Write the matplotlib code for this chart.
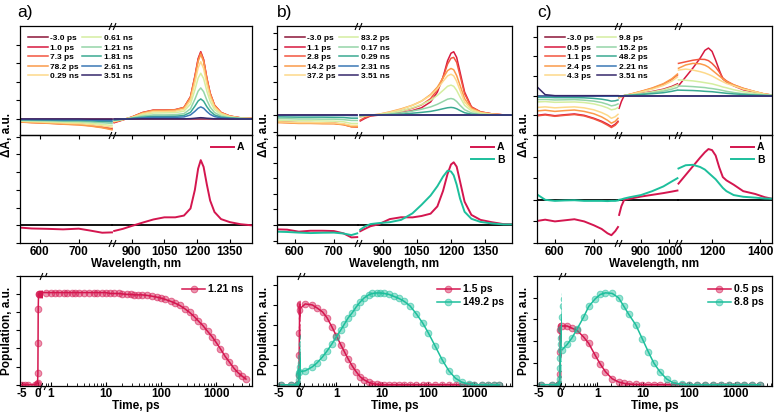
import numpy as np
import matplotlib
matplotlib.use('Agg')
import matplotlib.pyplot as plt
from matplotlib.colors import to_rgba
from matplotlib.path import Path
from matplotlib.ticker import LogLocator, NullFormatter

plt.rcParams['font.family'] = ['Liberation Sans', 'DejaVu Sans']
plt.rcParams['font.weight'] = 'bold'
plt.rcParams['axes.labelweight'] = 'bold'

# ---------------- data ----------------
delay_colors = ['#8b1538', '#d7193f', '#f2553f', '#fb9a4a', '#fdd98a',
                '#d5eea0', '#95d5a8', '#3aa992', '#3a78b5', '#35286b']
col_A = '#d4164f'
col_B = '#1dbf9c'

# panel a
delays_a = ['-3.0 ps', '1.0 ps', '7.3 ps', '78.2 ps', '0.29 ns',
            '0.61 ns', '1.21 ns', '1.81 ns', '2.61 ns', '3.51 ns']
wl_a_L = [550, 580, 620, 660, 700, 730, 760, 785]
wl_a_R = [820, 860, 900, 950, 1000, 1050, 1100, 1140, 1170, 1190,
          1205, 1217, 1230, 1245, 1260, 1280, 1310, 1350, 1400, 1450]
dA_a_L = [
    [0, 0, 0, 0, 0, 0, 0, 0],
    [-0.14, -0.17, -0.2, -0.25, -0.27, -0.33, -0.42, -0.5],
    [-0.15, -0.19, -0.22, -0.27, -0.3, -0.36, -0.45, -0.55],
    [-0.16, -0.2, -0.23, -0.28, -0.32, -0.38, -0.47, -0.58],
    [-0.12, -0.15, -0.18, -0.22, -0.25, -0.3, -0.37, -0.45],
    [-0.1, -0.12, -0.14, -0.17, -0.19, -0.23, -0.29, -0.35],
    [-0.07, -0.08, -0.1, -0.12, -0.13, -0.16, -0.2, -0.24],
    [-0.04, -0.05, -0.06, -0.08, -0.08, -0.1, -0.13, -0.15],
    [-0.03, -0.03, -0.04, -0.05, -0.05, -0.06, -0.08, -0.09],
    [0, 0, 0, 0, 0, -0.01, -0.01, -0.01],
]
dA_a_R = [
    [0, 0, 0, 0, 0, 0, 0, 0, 0, 0, 0, 0, 0, 0, 0, 0, 0, 0, 0, 0],
    [-0.2, -0.05, 0.1, 0.35, 0.48, 0.48, 0.5, 0.62, 1.2, 2.3, 3.25, 3.62, 3.2, 2.2, 1.4, 0.75, 0.35, 0.16, 0.06, 0.03],
    [-0.18, -0.04, 0.1, 0.34, 0.47, 0.47, 0.5, 0.62, 1.18, 2.25, 3.2, 3.58, 3.18, 2.18, 1.38, 0.74, 0.35, 0.16, 0.06, 0.03],
    [-0.15, -0.03, 0.1, 0.33, 0.46, 0.46, 0.48, 0.6, 1.15, 2.2, 3.1, 3.48, 3.08, 2.12, 1.35, 0.72, 0.34, 0.15, 0.06, 0.03],
    [-0.13, -0.03, 0.08, 0.28, 0.4, 0.4, 0.42, 0.52, 1.0, 1.95, 2.75, 3.08, 2.72, 1.87, 1.19, 0.64, 0.3, 0.14, 0.05, 0.02],
    [-0.1, -0.02, 0.07, 0.23, 0.32, 0.33, 0.34, 0.42, 0.8, 1.56, 2.2, 2.46, 2.18, 1.5, 0.95, 0.51, 0.24, 0.11, 0.04, 0.02],
    [-0.07, -0.02, 0.05, 0.16, 0.22, 0.22, 0.23, 0.29, 0.55, 1.06, 1.5, 1.67, 1.47, 1.01, 0.64, 0.35, 0.16, 0.07, 0.03, 0.01],
    [-0.05, -0.01, 0.03, 0.1, 0.14, 0.14, 0.15, 0.19, 0.36, 0.69, 0.97, 1.08, 0.96, 0.66, 0.42, 0.22, 0.1, 0.05, 0.02, 0.01],
    [-0.03, -0.01, 0.02, 0.06, 0.09, 0.09, 0.09, 0.11, 0.22, 0.41, 0.58, 0.65, 0.58, 0.4, 0.25, 0.13, 0.06, 0.03, 0.01, 0.0],
    [0, 0, 0, 0.01, 0.01, 0.01, 0.01, 0.01, 0.02, 0.04, 0.06, 0.07, 0.06, 0.04, 0.03, 0.01, 0.01, 0, 0, 0],
]
A_a_L = [-0.13, -0.18, -0.2, -0.23, -0.19, -0.3, -0.42, -0.4]
A_a_R = [-0.32, -0.2, -0.04, 0.15, 0.33, 0.45, 0.45, 0.55, 0.95, 2.0,
         3.2, 3.68, 3.3, 2.3, 1.4, 0.75, 0.35, 0.18, 0.06, 0.0]

# panel b
delays_b = ['-3.0 ps', '1.1 ps', '2.8 ps', '14.2 ps', '37.2 ps',
            '83.2 ps', '0.17 ns', '0.29 ns', '2.31 ns', '3.51 ns']
wl_b_L = [554, 580, 610, 640, 670, 700, 725, 745, 760]
wl_b_R = [800, 820, 845, 880, 930, 980, 1030, 1070, 1110, 1140, 1165,
          1185, 1200, 1212, 1225, 1240, 1260, 1290, 1330, 1380, 1430, 1465]
dA_b_L = [
    [0, 0, 0, 0, 0, 0, 0, 0, 0],
    [-0.4, -0.42, -0.45, -0.45, -0.47, -0.48, -0.55, -0.68, -0.7],
    [-0.42, -0.44, -0.47, -0.47, -0.49, -0.5, -0.57, -0.7, -0.72],
    [-0.45, -0.47, -0.5, -0.5, -0.52, -0.52, -0.58, -0.7, -0.7],
    [-0.4, -0.42, -0.45, -0.45, -0.46, -0.47, -0.52, -0.62, -0.62],
    [-0.3, -0.32, -0.34, -0.34, -0.35, -0.36, -0.4, -0.5, -0.5],
    [-0.2, -0.21, -0.23, -0.23, -0.24, -0.24, -0.27, -0.32, -0.32],
    [-0.1, -0.11, -0.12, -0.12, -0.12, -0.13, -0.14, -0.18, -0.18],
    [-0.01, -0.01, -0.01, -0.01, -0.01, -0.01, -0.01, -0.02, -0.02],
    [0, 0, 0, 0, 0, 0, 0, 0, 0],
]
dA_b_R = [
    [0, 0, 0, 0, 0, 0, 0, 0, 0, 0, 0, 0, 0, 0, 0, 0, 0, 0, 0, 0, 0, 0],
    [-0.35, -0.2, -0.05, 0.0, 0.08, 0.15, 0.28, 0.45, 0.8, 1.4, 2.3, 3.3, 3.75, 3.84, 3.5, 2.6, 1.4, 0.5, 0.2, 0.08, 0.02, 0.0],
    [-0.3, -0.15, -0.03, 0.02, 0.12, 0.25, 0.42, 0.62, 1.0, 1.55, 2.3, 3.1, 3.45, 3.5, 3.2, 2.4, 1.3, 0.5, 0.2, 0.08, 0.02, 0.0],
    [-0.1, -0.05, 0.0, 0.05, 0.2, 0.38, 0.6, 0.85, 1.25, 1.7, 2.25, 2.7, 2.83, 2.75, 2.4, 1.8, 1.0, 0.42, 0.18, 0.07, 0.02, 0.0],
    [-0.08, -0.04, 0.0, 0.05, 0.18, 0.35, 0.6, 0.85, 1.2, 1.6, 2.05, 2.38, 2.48, 2.38, 2.05, 1.5, 0.8, 0.35, 0.15, 0.06, 0.02, 0.0],
    [-0.05, -0.02, 0.0, 0.03, 0.12, 0.25, 0.45, 0.65, 0.9, 1.2, 1.5, 1.75, 1.82, 1.75, 1.5, 1.1, 0.6, 0.26, 0.1, 0.04, 0.01, 0.0],
    [-0.03, -0.01, 0.0, 0.02, 0.07, 0.14, 0.25, 0.36, 0.5, 0.66, 0.83, 0.97, 1.01, 0.97, 0.83, 0.6, 0.33, 0.14, 0.05, 0.02, 0.0, 0.0],
    [-0.02, -0.01, 0.0, 0.01, 0.03, 0.06, 0.12, 0.17, 0.23, 0.31, 0.39, 0.45, 0.47, 0.45, 0.39, 0.28, 0.15, 0.06, 0.02, 0.01, 0.0, 0.0],
    [0, 0, 0, 0, 0, 0, 0, 0, 0, 0, 0, 0, 0, 0, 0, 0, 0, 0, 0, 0, 0, 0],
    [0, 0, 0, 0, 0, 0, 0, 0, 0, 0, 0, 0, 0, 0, 0, 0, 0, 0, 0, 0, 0, 0],
]
A_b_L = [-0.28, -0.3, -0.43, -0.37, -0.37, -0.39, -0.54, -0.8, -0.78]
A_b_R = [-0.4, -0.25, -0.08, 0.04, 0.38, 0.5, 0.49, 0.58, 0.73, 1.2, 2.2,
         3.3, 3.9, 4.04, 3.76, 2.8, 1.5, 0.65, 0.33, 0.18, 0.06, 0.05]
B_b_L = [-0.43, -0.45, -0.49, -0.52, -0.5, -0.49, -0.55, -0.65, -0.54]
B_b_R = [-0.3, -0.1, 0.06, 0.12, 0.18, 0.33, 0.75, 1.3, 1.9, 2.5, 3.12,
         3.5, 3.45, 3.2, 2.6, 1.7, 0.85, 0.4, 0.2, 0.1, 0.04, 0.04]

# panel c
delays_c = ['-3.0 ps', '0.5 ps', '1.1 ps', '2.4 ps', '4.3 ps',
            '9.8 ps', '15.2 ps', '48.2 ps', '2.21 ns', '3.51 ns']
wl_c_L = [554, 575, 600, 625, 650, 675, 700, 720, 735, 745, 755, 762]
wl_c_M = [822, 830, 840, 860, 900, 940, 980, 1010, 1030]
wl_c_R = [1060, 1090, 1120, 1150, 1170, 1185, 1200, 1215, 1230, 1245,
          1260, 1290, 1330, 1380, 1420, 1450]
dA_c_L = [
    [0, 0, 0, 0, 0, 0, 0, 0, 0, 0, 0, 0],
    [-1.0, -0.95, -1.02, -0.97, -0.93, -1.0, -1.15, -1.3, -1.45, -1.57, -1.45, -1.3],
    [-1.03, -0.98, -1.05, -1.0, -0.96, -1.03, -1.18, -1.34, -1.5, -1.62, -1.5, -1.34],
    [-0.78, -0.74, -0.8, -0.76, -0.73, -0.8, -0.92, -1.08, -1.25, -1.4, -1.3, -1.15],
    [-0.6, -0.57, -0.62, -0.59, -0.57, -0.62, -0.72, -0.86, -1.0, -1.15, -1.07, -0.95],
    [-0.32, -0.3, -0.34, -0.33, -0.32, -0.35, -0.42, -0.52, -0.62, -0.72, -0.68, -0.6],
    [-0.2, -0.19, -0.22, -0.21, -0.2, -0.23, -0.28, -0.35, -0.44, -0.52, -0.48, -0.42],
    [-0.08, -0.08, -0.1, -0.1, -0.1, -0.11, -0.14, -0.18, -0.23, -0.28, -0.26, -0.22],
    [-0.02, -0.02, -0.02, -0.02, -0.02, -0.02, -0.02, -0.03, -0.03, -0.03, -0.03, -0.02],
    [0.45, 0.05, 0.0, 0.0, 0.0, 0.0, 0.0, 0.0, 0.0, 0.0, 0.0, 0.0],
]
dA_c_M = [
    [0, 0, 0, 0, 0, 0, 0, 0, 0],
    [-0.64, -0.3, 0.0, 0.04, 0.12, 0.21, 0.33, 0.47, 0.6],
    [-0.1, -0.05, 0.0, 0.06, 0.21, 0.37, 0.58, 0.82, 1.05],
    [-0.1, -0.05, 0.0, 0.07, 0.22, 0.39, 0.61, 0.86, 1.1],
    [-0.08, -0.04, 0.0, 0.06, 0.19, 0.33, 0.52, 0.74, 0.95],
    [-0.05, -0.02, 0.0, 0.03, 0.11, 0.19, 0.3, 0.43, 0.55],
    [-0.04, -0.02, 0.0, 0.03, 0.08, 0.15, 0.23, 0.33, 0.42],
    [-0.02, -0.01, 0.0, 0.02, 0.06, 0.1, 0.15, 0.22, 0.28],
    [0, 0, 0, 0, 0, 0, 0, 0, 0],
    [0, 0, 0, 0, 0, 0, 0, 0, 0],
]
dA_c_R = [
    [0, 0, 0, 0, 0, 0, 0, 0, 0, 0, 0, 0, 0, 0, 0, 0],
    [0.5, 0.95, 1.4, 1.9, 2.3, 2.42, 2.25, 1.8, 1.3, 0.85, 0.7, 0.5, 0.3, 0.17, 0.07, 0.03],
    [1.64, 1.72, 1.8, 1.85, 1.84, 1.78, 1.64, 1.45, 1.2, 0.9, 0.75, 0.55, 0.37, 0.2, 0.08, 0.03],
    [1.39, 1.56, 1.64, 1.62, 1.55, 1.45, 1.3, 1.15, 1.0, 0.85, 0.72, 0.55, 0.37, 0.2, 0.08, 0.03],
    [1.3, 1.35, 1.3, 1.22, 1.15, 1.08, 1.0, 0.9, 0.8, 0.71, 0.62, 0.5, 0.33, 0.2, 0.08, 0.03],
    [0.8, 0.78, 0.75, 0.7, 0.66, 0.63, 0.6, 0.55, 0.5, 0.44, 0.4, 0.3, 0.2, 0.12, 0.05, 0.02],
    [0.49, 0.48, 0.46, 0.43, 0.41, 0.38, 0.36, 0.33, 0.3, 0.26, 0.22, 0.16, 0.1, 0.06, 0.03, 0.01],
    [0.28, 0.27, 0.26, 0.24, 0.22, 0.21, 0.2, 0.18, 0.16, 0.14, 0.12, 0.09, 0.06, 0.03, 0.01, 0.0],
    [0, 0, 0, 0, 0, 0, 0, 0, 0, 0, 0, 0, 0, 0, 0, 0],
    [0, 0, 0, 0, 0, 0, 0, 0, 0, 0, 0, 0, 0, 0, 0, 0],
]
A_c_L = [-0.98, -0.92, -1.0, -0.95, -0.9, -1.0, -1.18, -1.35, -1.55, -1.64, -1.45, -1.26]
A_c_M = [-0.7, -0.3, 0.0, 0.05, 0.15, 0.23, 0.31, 0.38, 0.43]
A_c_R = [0.75, 1.15, 1.55, 1.95, 2.2, 2.35, 2.3, 2.05, 1.5, 1.05, 0.9, 0.7,
         0.4, 0.27, 0.12, 0.05]
B_c_L = [0.25, 0.0, -0.05, -0.03, -0.02, -0.05, -0.05, -0.05, -0.06, -0.05, -0.05, -0.03]
B_c_M = [0.0, 0.02, 0.06, 0.12, 0.22, 0.4, 0.62, 0.85, 1.0]
B_c_R = [1.45, 1.6, 1.62, 1.52, 1.4, 1.25, 1.1, 0.95, 0.75, 0.55, 0.4, 0.22,
         0.14, 0.1, 0.06, 0.05]

# kinetics
t_a = [-5, -4, -3, -1, -0.3, -0.1, 0, 0.05, 0.1, 0.2, 0.4, 0.8, 1, 1.2, 1.4,
       1.7, 2, 2.4, 2.8, 3.3, 4, 5, 6, 7, 8.5, 10, 12, 14, 17, 20, 24, 28, 33,
       38, 45, 55, 70, 85, 100, 120, 150, 180, 220, 270, 330, 400, 480, 580,
       700, 850, 1000, 1200, 1450, 1750, 2100, 2500, 3000, 3500]
pop_a = [0, 0, 0, 0, 0.01, 0.02, 0.13, 0.46, 0.83, 1.0, 1.0, 1.0, 1.0, 1.0,
         1.0, 1.0, 1.0, 1.0, 1.0, 1.0, 1.0, 1.0, 1.0, 1.0, 1.0, 1.0, 0.99,
         0.99, 0.99, 0.985, 0.98, 0.98, 0.975, 0.975, 0.975, 0.97, 0.96, 0.95,
         0.94, 0.925, 0.905, 0.885, 0.86, 0.825, 0.785, 0.74, 0.69, 0.64, 0.58,
         0.52, 0.46, 0.39, 0.31, 0.245, 0.18, 0.13, 0.09, 0.06]

t_b = [-4.5, -2, -0.5, -0.2, 0, 0.05, 0.1, 0.15, 0.21, 0.3, 0.38, 0.5, 0.63,
       0.8, 1.0, 1.25, 1.5, 1.8, 2.2, 2.7, 3.3, 4, 5, 6, 7.5, 9, 11, 14, 18,
       23, 30, 40, 55, 75, 100, 140, 200, 280, 390, 540, 750, 1000, 1500,
       2000, 2700, 3500]
pop_b1 = [0, 0, 0, 0.01, 0.1, 0.3, 0.52, 0.75, 0.81, 0.8, 0.77, 0.73, 0.67,
          0.58, 0.49, 0.4, 0.33, 0.26, 0.19, 0.13, 0.08, 0.05, 0.025, 0.012,
          0.005, 0, 0, 0, 0, 0, 0, 0, 0, 0, 0, 0, 0, 0, 0, 0, 0, 0, 0, 0, 0, 0]
pop_b2 = [0, 0, 0, 0, 0.05, 0.1, 0.12, 0.13, 0.14, 0.18, 0.22, 0.28, 0.34,
          0.41, 0.48, 0.55, 0.61, 0.67, 0.72, 0.78, 0.83, 0.87, 0.9, 0.915,
          0.92, 0.92, 0.915, 0.905, 0.885, 0.865, 0.835, 0.79, 0.71, 0.62,
          0.52, 0.39, 0.25, 0.14, 0.065, 0.025, 0.008, 0.002, 0, 0, 0, 0]

t_c = [-4.5, -2, -0.5, -0.2, 0, 0.05, 0.1, 0.17, 0.22, 0.28, 0.36, 0.5, 0.65,
       0.9, 1.16, 1.5, 2.1, 2.9, 3.8, 4.8, 6.9, 9.6, 13, 17, 23, 33, 46, 70,
       100, 150, 220, 330, 500, 750, 1100, 1600, 2400, 3500]
pop_c1 = [0, 0, 0, 0.01, 0.1, 0.3, 0.5, 0.54, 0.54, 0.52, 0.5, 0.44, 0.38,
          0.27, 0.19, 0.12, 0.055, 0.025, 0.012, 0.006, 0.002, 0, 0, 0, 0, 0,
          0, 0, 0, 0, 0, 0, 0, 0, 0, 0, 0, 0]
pop_c2 = [0, 0, 0, 0, 0.05, 0.15, 0.25, 0.32, 0.37, 0.43, 0.51, 0.62, 0.72,
          0.79, 0.83, 0.845, 0.84, 0.8, 0.72, 0.65, 0.55, 0.42, 0.3, 0.2,
          0.12, 0.05, 0.015, 0.003, 0, 0, 0, 0, 0, 0, 0, 0, 0, 0]

# ---------------- layout helpers ----------------
W, H = 774, 416
fig = plt.figure(figsize=(7.74, 4.16), dpi=100)

# "//" axis-break symbol used as a marker
BREAK = Path([(-2.0, -2), (-0.4, 2), (0.4, -2), (2.0, 2)],
             [Path.MOVETO, Path.LINETO, Path.MOVETO, Path.LINETO])


def rect(l, r, t, b):
    return [l / W, 1 - b / H, (r - l) / W, (b - t) / H]


def seg_scale(segs, widths):
    xs, us = [], []
    u = 0.0
    for (lo, hi), w in zip(segs, widths):
        xs += [lo, hi]
        us += [u, u + w]
        u += w + 0.001
    k0 = widths[0] / (segs[0][1] - segs[0][0])
    k1 = widths[-1] / (segs[-1][1] - segs[-1][0])
    xs = [xs[0] - 1e4] + xs + [xs[-1] + 1e4]
    us = [us[0] - 1e4 * k0] + us + [us[-1] + 1e4 * k1]
    return (lambda x: np.interp(x, xs, us)), (lambda v: np.interp(v, us, xs))


def style(ax):
    for s in ax.spines.values():
        s.set_linewidth(0.9)
    ax.tick_params(direction='out', length=3, width=0.8, labelsize=8.5, pad=1.5)


def break_mark(ax, x, y, trans):
    ax.plot([x], [y], marker=BREAK, ms=5, mew=0.8, color='k',
            transform=trans, clip_on=False, zorder=5)


def spectra(x0, x1, segs, widths, xticks, wls, rows, labels, mids,
            ylim_top, yt_top, ylim_mid, yt_mid):
    fwd, inv = seg_scale(segs, widths)
    ax_t = fig.add_axes(rect(x0, x1, 26, 135))
    ax_m = fig.add_axes(rect(x0, x1, 135, 243))
    ax_m.set_facecolor('none')
    for ax in (ax_t, ax_m):
        ax.set_xscale('function', functions=(fwd, inv))
        ax.set_xlim(segs[0][0], segs[-1][1])
        ax.set_xticks(xticks)
        style(ax)
    ax_m.tick_params(axis='x', direction='in', pad=2)
    ax_t.set_xticklabels([])
    ax_m.set_xticklabels([str(v) for v in xticks])
    ax_t.set_ylim(*ylim_top)
    ax_t.set_yticks(yt_top)
    ax_t.set_yticklabels([])
    ax_m.set_ylim(*ylim_mid)
    ax_m.set_yticks(yt_mid)
    ax_m.set_yticklabels([])
    ax_m.set_xlabel('Wavelength, nm', fontsize=8.5, labelpad=0)

    for i, lab in enumerate(labels):
        for k, wl in enumerate(wls):
            ax_t.plot(wl, rows[k][i], color=delay_colors[i], lw=1.1,
                      label=lab if k == 0 else None)
    ax_t.legend(loc='upper left', ncol=2, frameon=False, fontsize=6,
                handlelength=2.3, labelspacing=0.2, columnspacing=0.4,
                handletextpad=0.3, borderaxespad=0.6)

    for lo, hi in segs:
        ax_m.plot([lo, hi], [0, 0], color='k', lw=1.3, zorder=1.5)
    for name, vals, c in mids:
        for k, wl in enumerate(wls):
            ax_m.plot(wl, vals[k], color=c, lw=1.4,
                      label=name if k == 0 else None)
    ax_m.legend(loc='upper right', frameon=False, fontsize=7.5,
                handlelength=2.2, handletextpad=0.3, labelspacing=0.25,
                borderaxespad=0.3)

    for j in range(len(segs) - 1):
        xb = (segs[j][1] + segs[j + 1][0]) / 2
        for ax, yy in ((ax_t, 1.0), (ax_t, 0.0), (ax_m, 0.0)):
            break_mark(ax, xb, yy, ax.get_xaxis_transform())
    fig.text((x0 - 13) / W, 1 - 135 / H, '\u0394A, a.u.', rotation=90,
             ha='center', va='center', fontsize=8.5, weight='bold')


def kinetics(x0, xb, x1, lin_lim, log_lim, ylim, yticks, series):
    ax_l = fig.add_axes(rect(x0, xb, 276, 386))
    ax_g = fig.add_axes(rect(xb, x1, 276, 386))
    ax_g.set_xscale('log', nonpositive='mask')
    for t, p, c, lab in series:
        for ax in (ax_l, ax_g):
            ax.plot(t, p, '-o', color=c, lw=1.1, ms=4.8,
                    mfc=to_rgba(c, 0.45), mec=to_rgba(c, 0.55), mew=0.7,
                    label=lab)
    for ax in (ax_l, ax_g):
        style(ax)
        ax.tick_params(axis='x', which='both', direction='in', pad=1.5)
        ax.set_ylim(*ylim)
    ax_l.set_xlim(*lin_lim)
    ax_g.set_xlim(*log_lim)
    ax_l.spines['right'].set_visible(False)
    ax_g.spines['left'].set_visible(False)
    ax_l.set_xticks([-5, 0])
    ax_l.set_xticklabels(['-5', '0'])
    ax_l.set_yticks(yticks)
    ax_l.set_yticklabels([])
    ax_g.set_xticks([1, 10, 100, 1000])
    ax_g.set_xticklabels(['1', '10', '100', '1000'])
    ax_g.xaxis.set_minor_locator(LogLocator(base=10, subs=np.arange(2, 10)))
    ax_g.xaxis.set_minor_formatter(NullFormatter())
    ax_g.tick_params(which='minor', length=2, width=0.6)
    ax_g.tick_params(left=False, labelleft=False)
    ax_g.legend(loc='upper right', frameon=False, fontsize=7.5,
                handlelength=2.2, handletextpad=0.3, labelspacing=0.3,
                borderaxespad=0.4)
    for yy in (0.0, 1.0):
        break_mark(ax_l, 1.0, yy, ax_l.transAxes)
    fig.text((x0 + x1) / 2 / W, 1 - 406 / H, 'Time, ps', ha='center',
             va='center', fontsize=8.5, weight='bold')
    fig.text((x0 - 13) / W, 1 - 331 / H, 'Population, a.u.', rotation=90,
             ha='center', va='center', fontsize=8.5, weight='bold')


# ---------------- panels ----------------
spectra(20, 252, [(550, 785), (810, 1452)], [92, 140],
        [600, 700, 900, 1050, 1200, 1350], [wl_a_L, wl_a_R],
        [dA_a_L, dA_a_R], delays_a, [('A', [A_a_L, A_a_R], col_A)],
        (-0.86, 5), range(0, 5), (-1, 5.1), range(-1, 6))
spectra(277, 512, [(554, 762), (790, 1469)], [81, 154],
        [600, 700, 900, 1050, 1200, 1350], [wl_b_L, wl_b_R],
        [dA_b_L, dA_b_R], delays_b,
        [('A', [A_b_L, A_b_R], col_A), ('B', [B_b_L, B_b_R], col_B)],
        (-1.2, 5.4), range(-1, 6), (-1.16, 5.8), range(-1, 6))
spectra(537, 772, [(554, 762), (818, 1032), (1058, 1450)], [81, 60, 94],
        [600, 700, 900, 1000, 1200, 1400], [wl_c_L, wl_c_M, wl_c_R],
        [dA_c_L, dA_c_M, dA_c_R], delays_c,
        [('A', [A_c_L, A_c_M, A_c_R], col_A), ('B', [B_c_L, B_c_M, B_c_R], col_B)],
        (-2, 3.54), range(-2, 4), (-2, 3), range(-2, 4))

kinetics(20, 43, 252, (-5.6, 1.6), (0.72, 4500), (-0.015, 1.18),
         np.arange(0, 1.21, 0.2), [(t_a, pop_a, col_A, '1.21 ns')])
kinetics(277, 301, 512, (-5.5, 0.5), (0.17, 6600), (-0.012, 1.09),
         np.arange(0, 1.01, 0.2),
         [(t_b, pop_b1, col_A, '1.5 ps'), (t_b, pop_b2, col_B, '149.2 ps')])
kinetics(537, 562, 772, (-5.5, 0.5), (0.17, 6400), (-0.012, 1.0),
         np.arange(0, 1.01, 0.2),
         [(t_c, pop_c1, col_A, '0.5 ps'), (t_c, pop_c2, col_B, '8.8 ps')])

for x, s in ((17, 'a)'), (277, 'b)'), (537, 'c)')):
    fig.text(x / W, 1 - 12 / H, s, fontsize=12.5, weight='normal',
             ha='left', va='center')

fig.savefig('out.png', dpi=100)
